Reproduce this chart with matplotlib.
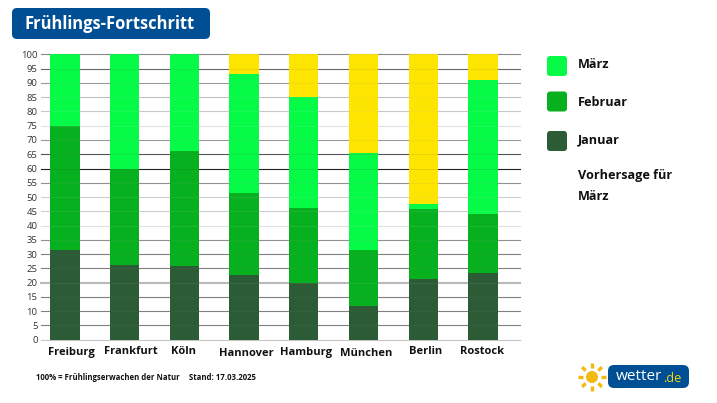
import matplotlib
matplotlib.use('Agg')
import matplotlib.pyplot as plt
import numpy as np
from matplotlib.patches import FancyBboxPatch, Circle

plt.rcParams['font.family'] = ['Open Sans', 'DejaVu Sans']

W, H = 717, 403

# Data
cities = ['Freiburg', 'Frankfurt', 'Köln', 'Hannover', 'Hamburg', 'München', 'Berlin', 'Rostock']
januar = [31.5, 26.3, 26.0, 22.8, 20.0, 11.7, 21.3, 23.5]
februar = [43.5, 33.7, 40.3, 28.5, 26.0, 19.6, 24.5, 20.5]
maerz = [25.0, 40.0, 33.7, 41.7, 39.0, 34.2, 1.7, 47.0]
vorhersage = [0.0, 0.0, 0.0, 7.0, 15.0, 34.5, 52.5, 9.0]
y_ticks = list(range(0, 101, 5))
# the gridlines come out in different greys in the original
grid_greys = ['#c4c4c4', '#808080', '#808080', '#808080', '#b8b8b8', '#808080', '#808080',
              '#909090', '#e0e0e0', '#cccccc', '#d0d0d0', '#909090', '#202020', '#555555',
              '#999999', '#e2e2e2', '#c8c8c8', '#c0c0c0', '#999999', '#666666', '#888888']
legend_labels = ['März', 'Februar', 'Januar']

col_jan = '#2b5c35'
col_feb = '#07b01f'
col_mar = '#05fb46'
col_vor = '#fde500'
blue = '#004f94'

fig = plt.figure(figsize=(W / 100, H / 100), dpi=100, facecolor='white')

# page layer in pixel coordinates
bg = fig.add_axes([0, 0, 1, 1])
bg.set_xlim(0, W)
bg.set_ylim(H, 0)
bg.axis('off')

# Plot
ax = fig.add_axes([41 / W, 1 - 339.7 / H, 479 / W, 285.3 / H])
ax.patch.set_alpha(0)
x = np.arange(len(cities))
bottom = np.zeros(len(cities))
for vals, col in [(januar, col_jan), (februar, col_feb), (maerz, col_mar), (vorhersage, col_vor)]:
    ax.bar(x, vals, 0.49, bottom=bottom, color=col, zorder=3)
    bottom = bottom + np.array(vals)

for t, g in zip(y_ticks, grid_greys):
    lw = 1.5 if t == 20 else 0.8
    ax.axhline(t, color=g, lw=lw, zorder=2, clip_on=False)
    # faint trace of the line over the bars
    ax.hlines([t] * len(x), x - 0.245, x + 0.245, color=g, lw=0.7, alpha=0.12, zorder=4, clip_on=False)

ax.set_xlim(-0.4, 7.62)
ax.set_ylim(0, 100)
ax.set_yticks(y_ticks)
ax.set_xticks(x)
ax.set_xticklabels([])
ax.tick_params(axis='y', length=0, pad=2.5, labelsize=6.8, labelcolor='#333333')
ax.tick_params(axis='x', length=0)
for s in ax.spines.values():
    s.set_visible(False)

# city labels sit a little off-centre in the original
label_x = [71, 131, 183, 246, 306, 366, 426, 482]
label_y = [352, 352, 352, 353, 352, 353, 352, 352]
for name, lx, ly in zip(cities, label_x, label_y):
    bg.text(lx, ly, name, ha='center', va='center', fontsize=8, fontweight='bold', color='#111111')

# title box
bg.add_patch(FancyBboxPatch((12, 8), 198, 31, boxstyle='round,pad=0,rounding_size=5',
                            fc=blue, ec='none'))
bg.text(24.5, 24, 'Frühlings-Fortschritt', ha='left', va='center', fontsize=11.9,
        fontweight='bold', color='white')

# legend
for label, col, ly, ty in zip(legend_labels, [col_mar, col_feb, col_jan], [66, 101.5, 141], [65, 102, 140]):
    bg.add_patch(FancyBboxPatch((547, ly - 10), 20, 20, boxstyle='round,pad=0,rounding_size=3',
                                fc=col, ec='none'))
    bg.text(578, ty, label, ha='left', va='center', fontsize=9.1, fontweight='bold',
            color='#111111')
bg.text(578, 175.5, 'Vorhersage für', ha='left', va='center', fontsize=9.1, fontweight='bold',
        color='#111111')
bg.text(578, 196.5, 'März', ha='left', va='center', fontsize=9.1, fontweight='bold',
        color='#111111')

# footnote
bg.text(36, 378, '100% = Frühlingserwachen der Natur', ha='left', va='center', fontsize=5.6,
        fontweight='bold', color='#111111')
bg.text(189, 378, 'Stand: 17.03.2025', ha='left', va='center', fontsize=5.6,
        fontweight='bold', color='#111111')

# logo
sun_x, sun_y = 592, 377
bg.add_patch(Circle((sun_x, sun_y), 6, fc='#f2b90f', ec='none'))
for a in np.arange(0, 360, 45):
    ca, sa = np.cos(np.radians(a)), np.sin(np.radians(a))
    bg.plot([sun_x + 9 * ca, sun_x + 14 * ca], [sun_y + 9 * sa, sun_y + 14 * sa],
            color='#f2b90f', lw=2.4, solid_capstyle='butt')
bg.add_patch(FancyBboxPatch((608, 365), 81, 23, boxstyle='round,pad=0,rounding_size=6',
                            fc=blue, ec='none'))
bg.text(616, 377, 'wetter', ha='left', va='center', fontsize=11, color='white')
bg.text(663, 378, '.de', ha='left', va='center', fontsize=9.2, color='#f2d50f')

fig.savefig('out.png', dpi=100)
